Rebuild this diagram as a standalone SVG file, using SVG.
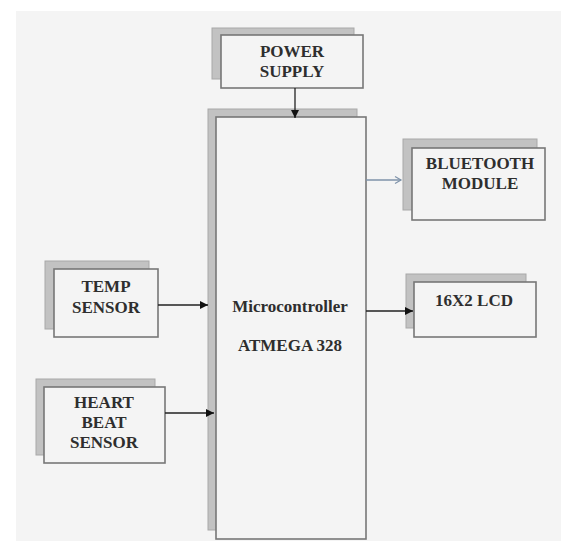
<svg xmlns="http://www.w3.org/2000/svg" width="561" height="541" viewBox="0 0 561 541">
<defs>
<marker id="ah" markerWidth="10" markerHeight="10" refX="9" refY="5" orient="auto" markerUnits="userSpaceOnUse">
<path d="M1,1 L9,5 L1,9 Z" fill="#111"/>
</marker>
<marker id="oh" markerWidth="10" markerHeight="10" refX="8" refY="5" orient="auto" markerUnits="userSpaceOnUse">
<path d="M2,1.5 L8,5 L2,8.5" fill="none" stroke="#7f93aa" stroke-width="1.2"/>
</marker>
</defs>
<style>
.sh{fill:#c2c2c2;stroke:#a8a8a8;stroke-width:1}
.fr{fill:#f4f4f4;stroke:#777;stroke-width:1.6}
.t{font-family:"Liberation Serif","Times New Roman",serif;font-weight:bold;font-size:17px;fill:#2e2e2e;text-anchor:middle}
.c{stroke:#222;stroke-width:1.3;fill:none}
</style>
<rect x="0" y="0" width="561" height="541" fill="#ffffff"/>
<rect x="16" y="11" width="545" height="530" fill="#f4f4f4"/>

<g id="power-supply">
<rect class="sh" x="212" y="28" width="142" height="51"/>
<rect class="fr" x="221" y="35" width="142" height="53"/>
<text class="t" x="292" y="57">POWER</text>
<text class="t" x="292" y="77">SUPPLY</text>
</g>

<g id="microcontroller">
<rect class="sh" x="208" y="109" width="149" height="421"/>
<rect class="fr" x="216" y="117" width="150" height="422"/>
<text class="t" x="290" y="312">Microcontroller</text>
<text class="t" x="290" y="351">ATMEGA 328</text>
</g>

<g id="bluetooth-module">
<rect class="sh" x="403" y="139" width="134" height="71"/>
<rect class="fr" x="412" y="148" width="133" height="72"/>
<text class="t" x="480" y="169">BLUETOOTH</text>
<text class="t" x="480" y="189">MODULE</text>
</g>

<g id="lcd">
<rect class="sh" x="406" y="274" width="120" height="54"/>
<rect class="fr" x="414" y="282" width="122" height="55"/>
<text class="t" x="474" y="306">16X2 LCD</text>
</g>

<g id="temp-sensor">
<rect class="sh" x="45" y="261" width="104" height="68"/>
<rect class="fr" x="54" y="269" width="104" height="68"/>
<text class="t" x="106" y="292">TEMP</text>
<text class="t" x="106" y="313">SENSOR</text>
</g>

<g id="heart-beat-sensor">
<rect class="sh" x="36" y="379" width="119" height="76"/>
<rect class="fr" x="44" y="387" width="121" height="76"/>
<text class="t" x="104" y="408">HEART</text>
<text class="t" x="104" y="428">BEAT</text>
<text class="t" x="104" y="448">SENSOR</text>
</g>

<g id="connectors">
<line class="c" x1="295" y1="88" x2="295" y2="118" marker-end="url(#ah)"/>
<line x1="366" y1="180" x2="401" y2="180" stroke="#7f93aa" stroke-width="1.3" marker-end="url(#oh)"/>
<line class="c" x1="366" y1="311" x2="413" y2="311" marker-end="url(#ah)"/>
<line class="c" x1="158" y1="305" x2="208" y2="305" marker-end="url(#ah)"/>
<line class="c" x1="165" y1="413" x2="214" y2="413" marker-end="url(#ah)"/>
</g>
</svg>
